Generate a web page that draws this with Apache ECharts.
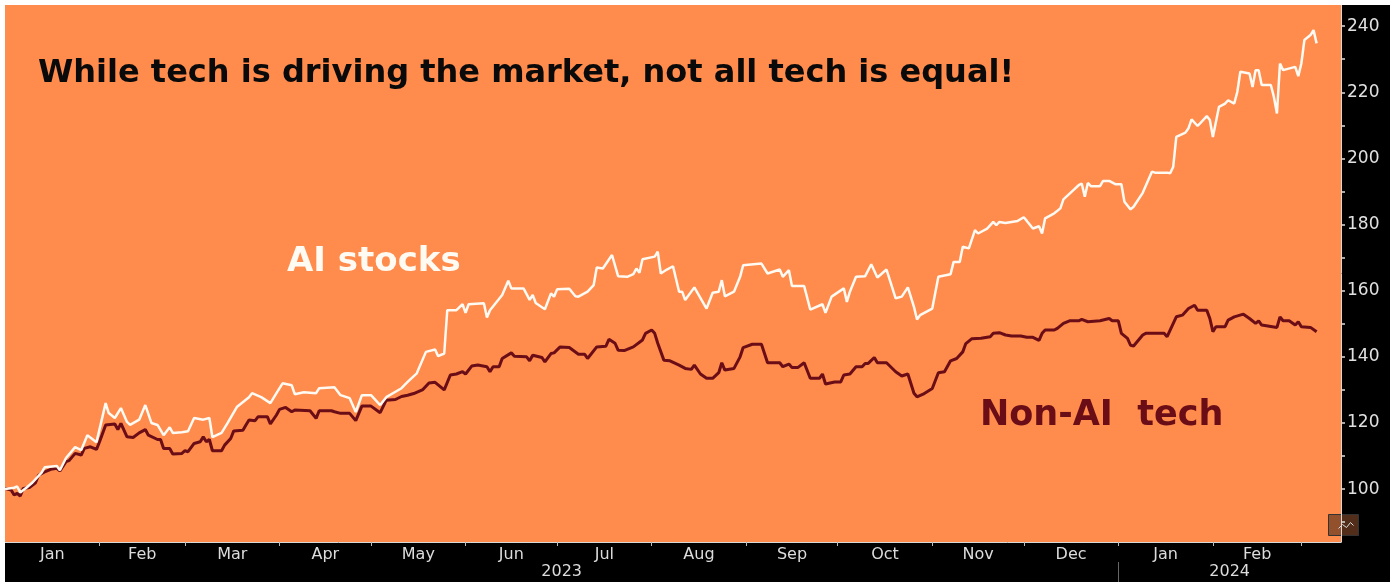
<!DOCTYPE html>
<html>
<head>
<meta charset="utf-8">
<script src="https://cdn.jsdelivr.net/npm/echarts@6/dist/echarts.min.js"></script>
<style>
  html, body { margin: 0; padding: 0; background: #fff; }
  #main { position: absolute; left: 5px; top: 5px; width: 1385px; height: 577px; }
</style>
</head>
<body>
<div id="main"></div>
<script>
// x values are days counted from 2023-01-01
var aiDays = [0,3,4,5,7,9,12,13,17,18,20,23,25,27,30,33,34,36,38,40,41,44,46,48,50,52,54,55,58,60,62,65,67,68,71,73,76,80,81,84,87,89,91,94,95,98,102,103,108,110,113,115,117,120,123,125,130,132,135,138,141,142,144,145,148,150,151,152,157,158,159,163,165,166,170,172,173,174,177,179,180,181,185,187,188,191,193,194,196,199,201,204,206,207,208,209,213,214,215,217,219,221,222,223,226,230,232,234,235,236,239,241,242,248,250,254,255,257,258,262,264,268,269,271,275,276,277,279,282,284,286,289,292,294,296,298,299,300,304,306,310,311,313,314,316,318,319,322,324,325,326,328,332,334,335,337,339,340,341,344,346,347,350,352,353,354,355,356,359,360,362,364,366,367,369,370,373,376,377,381,382,383,384,387,388,389,391,394,395,396,398,400,401,403,404,405,408,409,410,411,412,415,416,417,418,419,423,424,425,426,428,429,430];
var aiValues = [100,100.4,100.8,99,100.4,102,105,106.6,107,105.7,109.4,112.7,111.8,116.3,114.2,126,123,121.5,124.5,120.3,119.4,121,125.4,120,119.4,116.3,118.7,117,117.2,117.5,121.5,121,121.5,115.7,117,120,124.8,127.8,129,127.8,126,129,132,131.4,128.7,129.3,129,130.5,130.8,128.4,127.5,123.3,128.4,128.4,125.4,127.8,130.5,132.4,135,141.5,142.2,140.2,141,154.1,154.1,155.9,153.3,155.9,156.2,151.9,154.1,158.7,163,160.7,160.7,157.2,158.7,156.3,154.4,159.2,158.2,160.4,160.6,158.3,158.2,159.7,161.7,167,166.7,170.8,164.4,164.2,165,166.7,165.4,169.5,170.3,171.8,165.2,166.4,167.4,159.7,159.7,157.2,161,154.6,159.4,159.7,163.2,158.3,159.7,164.2,167.7,168.2,165.2,166.4,164.2,166.2,161.4,161.4,154.3,155.9,153.3,158.2,160.7,156.6,159.7,164.2,164.4,168,164,166.4,157.7,158.2,161,155.1,151.3,152.6,154.6,164.2,165,168.7,168.7,173.3,172.8,178.3,177.3,178.8,180.8,179.8,180.8,180.5,181.1,182.2,181.1,178.8,179.5,177.3,181.9,183.4,184.9,187.6,190.2,191.9,192.4,188.4,192.6,191.6,191.6,193.2,193.2,192.2,192.2,186.9,184.6,185.4,189.6,196,195.7,195.7,195.5,197.5,206.5,207.8,209.1,211.8,209.8,212.8,211.6,206.5,215.6,216.6,217.6,216.6,220.1,226.2,225.7,221.6,226.7,226.7,222.2,222.2,218.6,213.6,228.7,226.7,227.7,224.9,228.7,235.8,237.3,238.8,234.8];

var nonAiDays = [0,2,3,4,5,6,8,10,11,13,15,17,18,20,21,23,25,26,28,30,31,33,36,37,38,40,42,44,46,47,50,51,52,54,55,58,59,60,62,64,65,66,67,68,71,72,74,75,78,79,80,82,83,86,87,89,90,92,94,95,100,102,103,107,108,110,113,115,117,120,123,125,128,130,132,134,137,139,141,144,146,148,150,151,153,155,158,159,160,162,163,166,167,171,172,173,176,177,179,180,182,185,188,190,191,194,197,198,200,201,203,206,209,210,212,213,214,216,218,221,223,225,226,228,230,232,234,235,236,239,241,242,245,248,250,254,255,257,258,260,262,264,267,268,269,272,274,275,277,279,281,282,283,285,286,289,292,294,296,298,299,301,304,306,308,310,312,314,315,317,320,323,324,326,328,330,333,335,337,339,340,341,344,345,347,349,352,353,355,359,362,363,365,366,368,369,370,373,374,380,381,384,386,388,390,391,394,395,396,397,400,401,403,406,408,410,411,412,417,418,419,421,423,424,425,428,430];
var nonAiValues = [100.2,99.7,98.2,98.7,97.9,100.2,100.5,101.9,104.2,105.2,106,106.3,105.5,108.3,108.6,110.8,110.3,112.3,112.8,112,114.3,119.4,119.7,118,119.9,115.8,115.6,117,118,116.3,115,115,112.3,112.3,110.6,110.8,111.6,111.3,113.8,114.3,115.8,114.3,115,111.6,111.6,113.3,115.3,117.6,117.8,119.4,120.9,120.7,121.9,121.9,119.7,122.4,124.1,124.7,123.4,123.9,123.7,121.4,123.7,123.7,123.4,122.9,122.9,120.7,125.1,125.1,123.1,126.9,127.1,128,128.4,128.9,130.1,132.1,132.3,130,134.5,134.8,135.5,134.8,137.2,137.5,137,135.5,137,137,139.5,141.2,140.2,140,138.8,140.5,139.8,138.5,141,141.2,143,142.8,140.8,140.8,139.5,143,143.2,145.3,144.1,142,141.9,143,145.1,147.1,148.1,147.1,144.1,139,138.8,137.5,136.5,136.2,137.5,134.8,133.5,133.5,135.2,138.2,136,136.5,140,142.8,143.8,143.8,138.2,138.2,137,137.8,136.8,136.8,138.2,133.5,133.5,134.8,131.8,132.4,132.4,134.5,134.8,137,137,138,138,139.8,138.2,138.2,135.5,134.2,134.8,129,127.9,128.7,130.4,135.2,135.5,138.8,139.5,141.5,144,145.5,145.6,146.1,147.1,147.3,146.6,146.3,146.3,145.9,145.9,145,147.1,148.1,148.1,148.6,150.1,150.9,150.9,151.3,150.6,150.9,151.6,150.9,150.9,147.1,145.6,143.5,143.3,146.6,147.1,147.1,146.1,152.1,152.6,154.6,155.6,154.1,154.1,151.6,147.6,149.1,149.1,151.1,152.1,152.9,151.6,150.1,150.9,149.6,148.9,152.1,150.9,150.9,149.6,150.6,149.1,148.9,147.6];

var monthStarts = [0,31,59,90,120,151,181,212,243,273,304,334,365,396,425];
var monthNames = ["Jan","Feb","Mar","Apr","May","Jun","Jul","Aug","Sep","Oct","Nov","Dec","Jan","Feb"];
var yearStarts = [0,365,438];
var yearNames = ["2023","2024"];
var yLabels = [100,120,140,160,180,200,220,240];
var yTicks = [90,100,110,120,130,140,150,160,170,180,190,200,210,220,230,240];

var monthMids = [];
for (var i = 0; i < monthNames.length; i++) {
    monthMids.push((monthStarts[i] + monthStarts[i + 1]) / 2);
}
var yearMids = [(yearStarts[0] + yearStarts[1]) / 2, (yearStarts[1] + yearStarts[2]) / 2];

function pairs(xs, ys) {
    var out = [];
    for (var i = 0; i < xs.length; i++) out.push([xs[i], ys[i]]);
    return out;
}

var axisFont = "DejaVu Sans";
var myChart = echarts.init(document.getElementById('main'));
var option = {
    backgroundColor: "#000",
    animation: false,
    grid: {
        left: 0, top: 0, right: 49, bottom: 40,
        show: true, backgroundColor: "#ff8b4d", borderWidth: 0
    },
    xAxis: [
        {
            type: "value", min: 0, max: 438,
            splitLine: {show: false},
            axisLine: {show: true, onZero: false, lineStyle: {color: "#d8d8d8", width: 1}},
            axisTick: {show: true, customValues: monthStarts.slice(1), length: 4, lineStyle: {color: "#bbb"}},
            axisLabel: {
                customValues: monthMids, color: "#dcdcdc", fontSize: 16, fontFamily: axisFont, margin: 5,
                formatter: function (v) {
                    var k = monthMids.indexOf(v);
                    return k >= 0 ? monthNames[k] : "";
                }
            }
        },
        {
            type: "value", min: 0, max: 438, position: "bottom", offset: 20,
            splitLine: {show: false},
            axisLine: {show: false, onZero: false},
            axisTick: {show: true, customValues: [365], length: 22, lineStyle: {color: "#666"}},
            axisLabel: {
                customValues: yearMids, color: "#dcdcdc", fontSize: 16, fontFamily: axisFont, margin: 2,
                formatter: function (v) {
                    var k = yearMids.indexOf(v);
                    return k >= 0 ? yearNames[k] : "";
                }
            }
        }
    ],
    yAxis: {
        type: "value", position: "right", min: 84, max: 246.4,
        splitLine: {show: false},
        axisLine: {show: true, onZero: false, lineStyle: {color: "#d8d8d8", width: 1}},
        axisTick: {show: true, customValues: yTicks, length: 4, lineStyle: {color: "#ddd", width: 1.5}},
        axisLabel: {customValues: yLabels, color: "#e0e0e0", fontSize: 17, fontFamily: axisFont, margin: 6}
    },
    series: [
        {
            name: "Non-AI tech", type: "line", showSymbol: false,
            data: pairs(nonAiDays, nonAiValues),
            lineStyle: {color: "#6a0d16", width: 3}
        },
        {
            name: "AI stocks", type: "line", showSymbol: false,
            data: pairs(aiDays, aiValues),
            lineStyle: {color: "#fffaf2", width: 2.5}
        }
    ],
    graphic: [
        {
            type: "text", left: 33, top: 53,
            style: {text: "While tech is driving the market, not all tech is equal!", font: "bold 32px 'DejaVu Sans'", fill: "#0a0a0a"}
        },
        {
            type: "text", left: 282, top: 240,
            style: {text: "AI stocks", font: "bold 34px 'DejaVu Sans'", fill: "#fffaf2"}
        },
        {
            type: "text", left: 975, top: 393,
            style: {text: "Non-AI  tech", font: "bold 35px 'DejaVu Sans'", fill: "#6a0d16"}
        },
        {
            type: "rect", left: 1323, top: 509,
            shape: {width: 30, height: 21},
            style: {fill: "rgba(110,60,35,0.75)", stroke: "#333", lineWidth: 1}
        },
        {
            type: "polyline", left: 1331, top: 515,
            shape: {points: [[0, 8], [4, 4], [8, 7], [12, 2], [15, 5]]},
            style: {stroke: "#ddd", lineWidth: 1, fill: null}
        }
    ]
};
myChart.setOption(option);
</script>
</body>
</html>
